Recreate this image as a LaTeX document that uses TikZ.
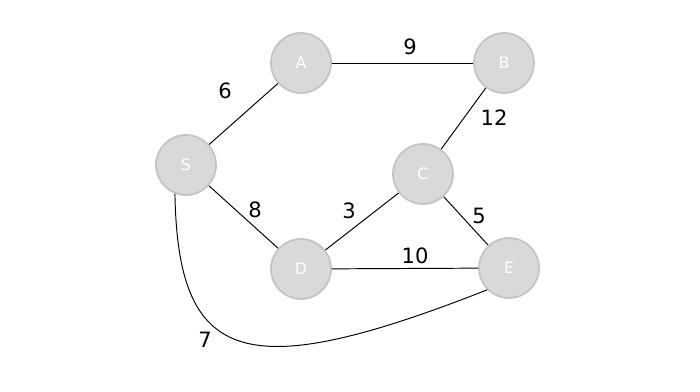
\documentclass[tikz,border=0pt]{standalone}
\usepackage{fontspec}
\setmainfont{DejaVu Sans}
\definecolor{nodefill}{HTML}{D9D9D9}
\definecolor{nodeedge}{HTML}{C4C4C4}
\begin{document}
\begin{tikzpicture}[
    vertex/.style={circle, fill=nodefill, draw=nodeedge, line width=1pt, minimum size=1.2cm, inner sep=0pt, text=white, font=\fontsize{9}{11}\selectfont},
    weight/.style={font=\fontsize{12}{14}\selectfont, inner sep=0pt},
    line width=0.55pt]
    \useasboundingbox (0,0) rectangle (14,7.82);

    % Vertici
    \node[vertex] (S) at (3.72,4.52) {S};
    \node[vertex] (A) at (6.02,6.56) {A};
    \node[vertex] (B) at (10.08,6.56) {B};
    \node[vertex] (C) at (8.46,4.34) {C};
    \node[vertex] (D) at (6.02,2.44) {D};
    \node[vertex] (E) at (10.18,2.46) {E};

    % Archi
    \draw (S) -- (A);
    \draw (A) -- (B);
    \draw (B) -- (C);
    \draw (S) -- (D);
    \draw (D) -- (C);
    \draw (C) -- (E);
    \draw (D) -- (E);
    \draw (S.-111) .. controls (3.56,0.52) and (4.90,0.12) .. (E.-135);

    % Pesi
    \node[weight] (w6) at (4.50,6.00) {6};
    \node[weight] (w9) at (8.20,6.88) {9};
    \node[weight] (w12) at (9.88,5.46) {12};
    \node[weight] (w8) at (5.10,3.62) {8};
    \node[weight] (w3) at (6.98,3.60) {3};
    \node[weight] (w5) at (9.58,3.50) {5};
    \node[weight] (w10) at (8.30,2.70) {10};
    \node[weight] (w7) at (4.10,1.02) {7};
\end{tikzpicture}
\end{document}
